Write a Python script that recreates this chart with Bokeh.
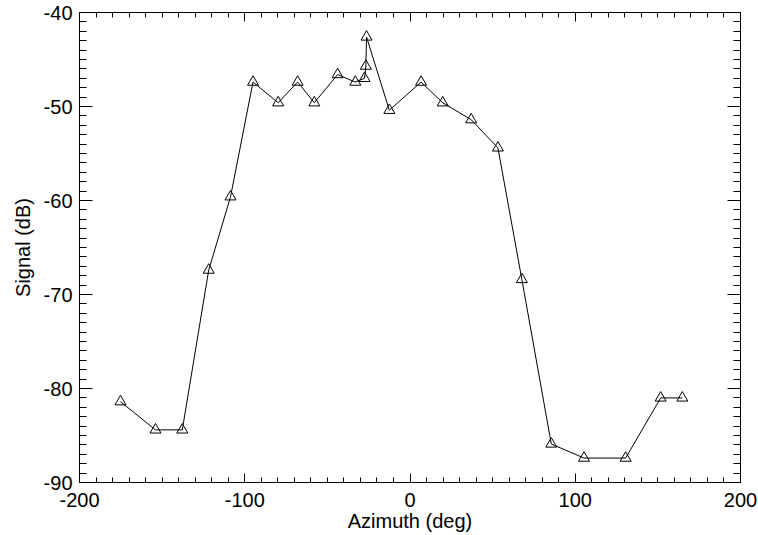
from bokeh.plotting import figure
from bokeh.models import (LinearAxis, SingleIntervalTicker, Range1d, ColumnDataSource,
                          CustomJSTickFormatter)
from bokeh.embed import file_html
from bokeh.resources import INLINE

# Data
azimuth = [-175.2, -154.0, -137.8, -121.8, -108.6, -95.0, -79.8, -68.0, -57.9, -43.8,
           -33.1, -27.5, -26.7, -26.3, -12.5, 6.7, 19.8, 37.0, 53.2, 67.7,
           85.5, 105.3, 130.5, 151.7, 164.8]
signal = [-81.4, -84.4, -84.4, -67.4, -59.6, -47.4, -49.6, -47.4, -49.6, -46.6,
          -47.4, -47.0, -45.7, -42.6, -50.4, -47.4, -49.6, -51.4, -54.4, -68.4,
          -85.9, -87.4, -87.4, -81.0, -81.0]

FONT = "Liberation Sans"
FSIZE = "20px"

src = ColumnDataSource(data=dict(x=azimuth, y=signal))

p = figure(width=758, height=535, output_backend="svg", toolbar_location=None,
           x_range=Range1d(-200, 200), y_range=Range1d(-90, -40),
           min_border_left=79, min_border_right=18, min_border_top=12, min_border_bottom=53,
           x_axis_label="Azimuth (deg)", y_axis_label="Signal (dB)")

p.background_fill_color = "white"
p.border_fill_color = "white"
p.outline_line_color = "black"
p.outline_line_width = 1
p.grid.visible = False

num_fmt = CustomJSTickFormatter(code="return tick.toFixed(0);")
blank_fmt = CustomJSTickFormatter(code="return '';")


def style(ax, major_in, minor_in):
    ax.axis_line_color = "black"
    ax.axis_line_width = 1
    ax.major_tick_line_color = "black"
    ax.minor_tick_line_color = "black"
    ax.major_tick_in = major_in
    ax.major_tick_out = 0
    ax.minor_tick_in = minor_in
    ax.minor_tick_out = 0
    ax.major_label_text_font = FONT
    ax.major_label_text_font_size = FSIZE
    ax.major_label_text_color = "black"
    ax.axis_label_text_font = FONT
    ax.axis_label_text_font_size = FSIZE
    ax.axis_label_text_font_style = "normal"
    ax.axis_label_text_color = "black"


xa = p.xaxis[0]
xa.ticker = SingleIntervalTicker(interval=100, num_minor_ticks=10)
xa.formatter = num_fmt
style(xa, 9, 5)
xa.major_label_standoff = 10
xa.axis_label_standoff = 0

ya = p.yaxis[0]
ya.ticker = SingleIntervalTicker(interval=10, num_minor_ticks=10)
ya.formatter = num_fmt
style(ya, 13, 7)
ya.major_label_standoff = 7
ya.axis_label_standoff = 7

top = LinearAxis(ticker=SingleIntervalTicker(interval=100, num_minor_ticks=10),
                 formatter=blank_fmt)
style(top, 9, 5)
top.major_label_standoff = 0
p.add_layout(top, "above")

right = LinearAxis(ticker=SingleIntervalTicker(interval=10, num_minor_ticks=10),
                   formatter=blank_fmt)
style(right, 13, 7)
right.major_label_standoff = 0
p.add_layout(right, "right")

p.line("x", "y", source=src, line_color="black", line_width=1)
p.scatter("x", "y", source=src, marker="triangle", size=11,
          fill_color=None, line_color="black", line_width=1)

open("out.html", "w").write(file_html(p, INLINE))
